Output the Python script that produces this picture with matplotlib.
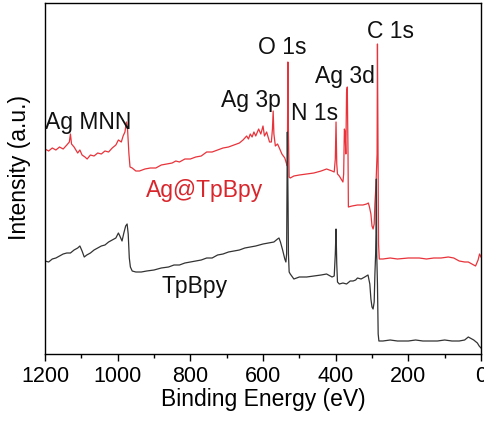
import matplotlib
matplotlib.use("Agg")
import matplotlib.pyplot as plt
from matplotlib.ticker import MultipleLocator

plt.rcParams['font.family'] = ['Liberation Sans', 'DejaVu Sans']

# Ag@TpBpy survey (binding energy eV, intensity a.u.)
red_be = [1200, 1190, 1180, 1170, 1160, 1150, 1140, 1133, 1130, 1127, 1120, 1110, 1104, 1098,
          1090, 1084, 1075, 1065, 1055, 1045, 1035, 1025, 1015, 1005, 998, 990, 985, 980, 976,
          973, 969, 966, 960, 950, 940, 925, 910, 895, 880, 865, 850, 840, 830, 815, 800, 785,
          770, 755, 740, 725, 710, 695, 680, 665, 655, 645, 640, 635, 630, 625, 620, 612, 606,
          600, 596, 590, 582, 577, 574, 572, 570, 566, 560, 555, 548, 540, 535, 533, 531.5, 530,
          528, 525, 515, 500, 480, 460, 440, 425, 410, 404, 401, 399, 397, 395, 390, 385, 380,
          378, 376, 374, 372, 370, 368, 366, 365, 355, 340, 325, 315, 310, 307, 303, 300, 297,
          294, 292, 289, 286, 285, 283.5, 282, 280, 270, 250, 230, 200, 170, 150, 130, 110, 90,
          75, 60, 45, 35, 25, 15, 8, 4, 0]
red_int = [205, 203, 206, 204, 207, 205, 209, 212, 220, 210, 207, 201, 204, 199,
           197, 195, 199, 198, 201, 200, 203, 202, 206, 209, 214, 212, 218, 222, 232,
           226, 200, 187, 186, 183, 183, 185, 186, 186, 189, 190, 191, 193, 192, 195, 195, 197,
           198, 202, 202, 204, 206, 207, 209, 211, 214, 218, 215, 220, 217, 222, 218, 225, 220,
           228, 218, 222, 212, 212, 225, 243, 220, 208, 210, 206, 200, 196, 190, 188, 292, 220,
           177, 176, 178, 179, 180, 181, 183, 185, 183, 182, 195, 232, 190, 180, 178, 175, 172,
           180, 225, 222, 200, 262, 267, 200, 147, 148, 149, 149, 150, 151, 147, 140, 128, 125,
           130, 150, 170, 200, 310, 200, 110, 95, 95, 96, 95, 96, 96, 95, 96, 96, 97,
           96, 93, 92, 92, 90, 88, 94, 100, 97]

# TpBpy survey
blk_be = [1200, 1190, 1180, 1170, 1160, 1150, 1140, 1130, 1120, 1110, 1104, 1098, 1092, 1085,
          1075, 1065, 1055, 1045, 1035, 1025, 1015, 1005, 998, 994, 988, 983, 978, 974, 971,
          968, 965, 960, 950, 935, 920, 900, 880, 860, 845, 830, 815, 800, 785, 770, 755, 740,
          725, 710, 695, 680, 665, 650, 635, 620, 600, 585, 570, 560, 556, 552, 546, 540, 537,
          535, 533, 531, 530, 528, 525, 515, 500, 480, 460, 440, 425, 410, 404, 401, 399, 397,
          395, 390, 380, 370, 360, 352, 345, 340, 330, 320, 311, 306, 303, 300, 297, 294, 292,
          290, 289, 288, 287, 285, 283, 281, 270, 250, 230, 200, 180, 160, 140, 120, 100, 80,
          60, 45, 35, 20, 10, 5, 0]
blk_int = [93, 92, 95, 96, 98, 100, 101, 101, 104, 106, 108, 103, 97, 99,
           101, 104, 106, 108, 109, 112, 114, 116, 121, 118, 113, 121, 128, 130, 120,
           96, 87, 83, 82, 82, 83, 84, 86, 87, 89, 89, 91, 92, 93, 94, 96, 96,
           99, 100, 102, 103, 104, 106, 107, 108, 110, 111, 112, 115, 116, 112, 104, 95, 92,
           100, 222, 150, 100, 82, 80, 75, 77, 77, 78, 79, 80, 77, 78, 100, 125, 90,
           72, 70, 71, 70, 73, 73, 74, 76, 75, 77, 79, 70, 55, 47, 45, 52, 80,
           100, 120, 175, 100, 70, 20, 13, 13, 14, 13, 13, 14, 13, 13, 13, 14, 13,
           13, 14, 17, 14, 11, 8, 6]

peak_labels = ["Ag MNN", "Ag 3p", "O 1s", "N 1s", "Ag 3d", "C 1s"]
peak_label_be = [1082, 633, 548, 457, 374, 248]
peak_label_int = [233, 255, 308, 242, 279, 323]

series_names = ["Ag@TpBpy", "TpBpy"]

RED = '#e8333b'
BLACK = '#333333'
FS = 16.5

fig = plt.figure(figsize=(4.85, 4.27), dpi=100)
ax = fig.add_axes([45/485, 72/427, 436/485, 351/427])

ax.plot(red_be, red_int, color=RED, lw=0.9)
ax.plot(blk_be, blk_int, color=BLACK, lw=0.9)

ax.set_xlim(1200, 0)
ax.set_ylim(0, 351)

for lab, x, y in zip(peak_labels, peak_label_be, peak_label_int):
    ax.text(x, y, lab, ha='center', va='center', fontsize=FS, color='#111111')

ax.text(762, 164, series_names[0], ha='center', va='center', fontsize=FS, color='#d8262c')
ax.text(787, 68, series_names[1], ha='center', va='center', fontsize=FS, color='#111111')

ax.xaxis.set_major_locator(MultipleLocator(200))
ax.xaxis.set_minor_locator(MultipleLocator(100))
ax.set_yticks([])
ax.tick_params(axis='x', which='major', direction='out', length=5, width=1, labelsize=15.5, pad=3)
ax.tick_params(axis='x', which='minor', direction='out', length=3, width=1)
for s in ax.spines.values():
    s.set_linewidth(1.0)
    s.set_color('black')

ax.set_xlabel("Binding Energy (eV)", fontsize=FS, labelpad=1)
ax.set_ylabel("Intensity (a.u.)", fontsize=FS)
ax.yaxis.set_label_coords(-0.032, 0.533)

fig.savefig("out.png", dpi=100)
